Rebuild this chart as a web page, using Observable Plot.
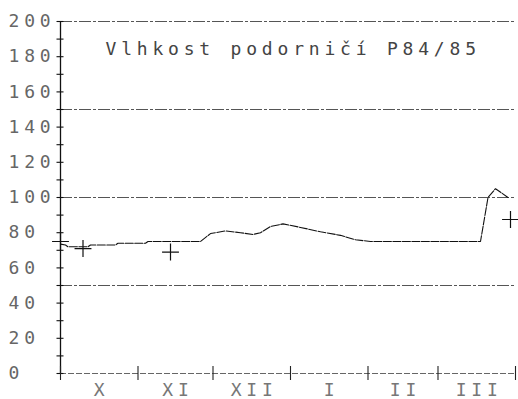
<!DOCTYPE html>
<html>
<head>
<meta charset="utf-8">
<script src="https://cdn.jsdelivr.net/npm/d3@7"></script>
<script src="https://cdn.jsdelivr.net/npm/@observablehq/plot@0.6"></script>
<style>
  html, body { margin: 0; padding: 0; background: #fff; }
  svg text { letter-spacing: 4.8px; }
</style>
</head>
<body>
<div id="chart"></div>
<script>
const title = "Vlhkost podorničí P84/85";
const monthStarts = ["1984-10-01", "1984-11-01", "1984-12-01", "1985-01-01", "1985-02-01", "1985-03-01", "1985-04-01"];
const monthLabels = ["X", "XI", "XII", "I", "II", "III"];
const yTicks = [0, 10, 20, 30, 40, 50, 60, 70, 80, 90, 100, 110, 120, 130, 140, 150, 160, 170, 180, 190, 200];
const yLabels = [0, 20, 40, 60, 80, 100, 120, 140, 160, 180, 200];
const gridLevels = [50, 100, 150, 200];

// continuous moisture curve
const lineDates = ["1984-10-01", "1984-10-03", "1984-10-04", "1984-10-12", "1984-10-13", "1984-10-23", "1984-10-24",
  "1984-11-04", "1984-11-05", "1984-11-26", "1984-11-30", "1984-12-06", "1984-12-12", "1984-12-17", "1984-12-20",
  "1984-12-24", "1984-12-29", "1985-01-05", "1985-01-13", "1985-01-21", "1985-01-27", "1985-02-02", "1985-03-18",
  "1985-03-21", "1985-03-24", "1985-03-29"];
const lineValues = [73.5, 73, 72, 72, 73, 73, 74,
  74, 75, 75, 79.5, 81, 80, 79, 80,
  83.5, 85, 83, 80.5, 78.5, 76, 75, 75,
  100, 105, 100];

// measured points (+)
const pointDates = ["1984-10-01", "1984-10-10", "1984-11-14", "1985-03-30"];
const pointValues = [75, 71, 69, 87.5];

const parse = d3.utcParse("%Y-%m-%d");
const lineData = lineDates.map((d, i) => ({date: parse(d), value: lineValues[i]}));
const pointData = pointDates.map((d, i) => ({date: parse(d), value: pointValues[i]}));
const starts = monthStarts.map(parse);
const months = monthLabels.map((m, i) => ({label: m, date: new Date((+starts[i] + +starts[i + 1]) / 2)}));

const font = "DejaVu Sans Mono";

const chart = Plot.plot({
  width: 518,
  height: 399,
  marginLeft: 60,
  marginRight: 0,
  marginTop: 21,
  marginBottom: 26,
  x: {type: "utc", domain: [starts[0], starts[starts.length - 1]], range: [60, 515], axis: null, label: null},
  y: {domain: [0, 200], axis: null, label: null},
  style: {fontFamily: font, background: "#fff"},
  marks: [
    // dash-dot gridlines
    Plot.ruleY(gridLevels, {x1: starts[0], x2: starts[starts.length - 1], stroke: "#555", strokeWidth: 1, strokeDasharray: "12,2,3,2"}),
    // baseline
    Plot.ruleY([0], {x1: starts[0], x2: starts[starts.length - 1], stroke: "#666", strokeWidth: 1, strokeDasharray: "6,2"}),
    // y axis line
    Plot.ruleX([starts[0]], {y1: 0, y2: 200, stroke: "#111", strokeWidth: 1.3}),
    // y ticks crossing the axis
    Plot.axisY({ticks: yTicks, tickSize: 7, dx: 3.5, tickFormat: () => "", label: null, stroke: "#111", strokeWidth: 1.1}),
    // y labels (left aligned)
    Plot.text(yLabels, {y: d => d, text: d => String(d), frameAnchor: "left", textAnchor: "start", dx: -52, fontSize: 18, fill: "#666"}),
    // x ticks crossing the baseline
    Plot.axisX({ticks: starts, tickSize: 14, dy: -7, tickFormat: () => "", label: null, stroke: "#222", strokeWidth: 1.1}),
    // month labels
    Plot.text(months, {x: "date", text: "label", frameAnchor: "bottom", lineAnchor: "top", dy: 10, dx: 2.4, fontSize: 18, fill: "#777"}),
    // title
    Plot.text([title], {text: d => d, frameAnchor: "top-left", lineAnchor: "top", textAnchor: "start", dx: 45, dy: 21, fontSize: 18, fill: "#444"}),
    // moisture curve
    Plot.line(lineData, {x: "date", y: "value", stroke: "#111", strokeWidth: 1.1, strokeDasharray: "8,1.5"}),
    // measured points
    Plot.dot(pointData, {x: "date", y: "value", symbol: "plus", r: 5.5, stroke: "#111", strokeWidth: 1.2})
  ]
});

document.getElementById("chart").appendChild(chart);
</script>
</body>
</html>
